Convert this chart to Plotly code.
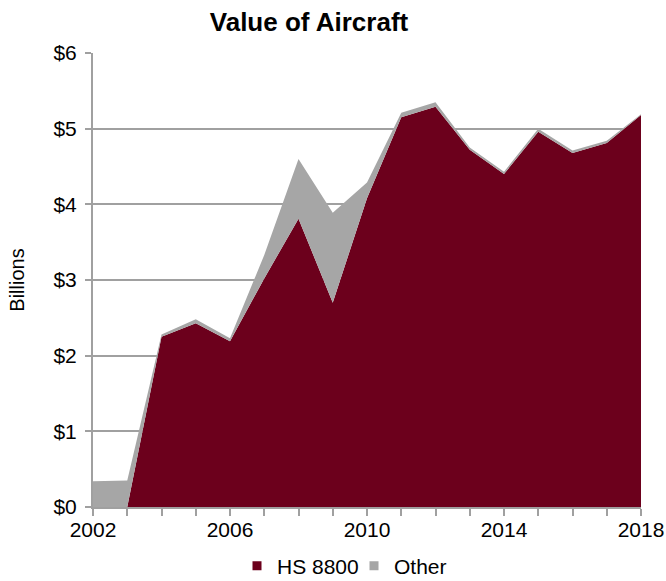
import plotly.graph_objects as go

years = list(range(2002, 2019))
hs8800 = [0.0, 0.0, 2.25, 2.43, 2.19, 3.02, 3.81, 2.70, 4.08, 5.15, 5.29, 4.72, 4.40, 4.96, 4.68, 4.81, 5.18]
other = [0.34, 0.35, 0.03, 0.05, 0.04, 0.31, 0.79, 1.19, 0.21, 0.06, 0.06, 0.03, 0.03, 0.04, 0.03, 0.03, 0.01]
x_tick_vals = years
x_tick_text = ["2002", "", "", "", "2006", "", "", "", "2010", "", "", "", "2014", "", "", "", "2018"]
y_tick_vals = [0, 1, 2, 3, 4, 5, 6]
y_tick_text = ["$0", "$1", "$2", "$3", "$4", "$5", "$6"]

RED = "#6C001C"
GRAY = "#A6A6A6"
AXIS = "#A0A0A0"
FONT = "Liberation Sans, Arial, sans-serif"

fig = go.Figure()
fig.add_trace(go.Scatter(x=years, y=hs8800, name="HS 8800", stackgroup="one",
                         mode="none", fillcolor=RED, showlegend=False, hoverinfo="skip"))
fig.add_trace(go.Scatter(x=years, y=other, name="Other", stackgroup="one",
                         mode="none", fillcolor=GRAY, showlegend=False, hoverinfo="skip"))
# legend entries (small squares)
fig.add_trace(go.Scatter(x=[None], y=[None], name="HS 8800", mode="markers",
                         marker=dict(symbol="square", size=9, color=RED)))
fig.add_trace(go.Scatter(x=[None], y=[None], name="Other", mode="markers",
                         marker=dict(symbol="square", size=9, color=GRAY)))

fig.update_layout(
    width=666, height=581,
    margin=dict(l=93, r=25, t=53, b=74),
    paper_bgcolor="white", plot_bgcolor="white",
    font=dict(family=FONT, size=21, color="black"),
    title=dict(text="<b>Value of Aircraft</b>", x=309/666, xanchor="center", xref="container",
               y=1 - 22/581, yanchor="middle", yref="container",
               font=dict(size=26, family=FONT)),
    showlegend=True,
    legend=dict(orientation="h", x=354/666, xanchor="center", xref="container",
                y=1 - 566/581, yanchor="middle", yref="container",
                font=dict(size=21), traceorder="normal", itemwidth=30,
                entrywidth=72, tracegroupgap=0),
    xaxis=dict(range=[2002, 2018], tickvals=x_tick_vals, ticktext=x_tick_text,
               ticks="outside", ticklen=7, tickcolor=AXIS, tickwidth=2, showgrid=False,
               showline=True, linecolor=AXIS, linewidth=2, zeroline=False,
               automargin=False, ticklabelstandoff=-4, tickfont=dict(size=21)),
    yaxis=dict(range=[0, 6], tickvals=y_tick_vals, ticktext=y_tick_text,
               ticks="outside", ticklen=6, tickcolor=AXIS, tickwidth=2,
               showgrid=True, gridcolor=AXIS, gridwidth=2,
               showline=True, linecolor=AXIS, linewidth=2, zeroline=False,
               automargin=False, ticklabelstandoff=4,
               title=dict(text="Billions", font=dict(size=20), standoff=23),
               tickfont=dict(size=21)),
)

fig.write_html("out.html",
               config={"displayModeBar": False},
               post_script="document.body.style.margin='0';document.body.style.padding='0';document.body.style.overflow='hidden';")
